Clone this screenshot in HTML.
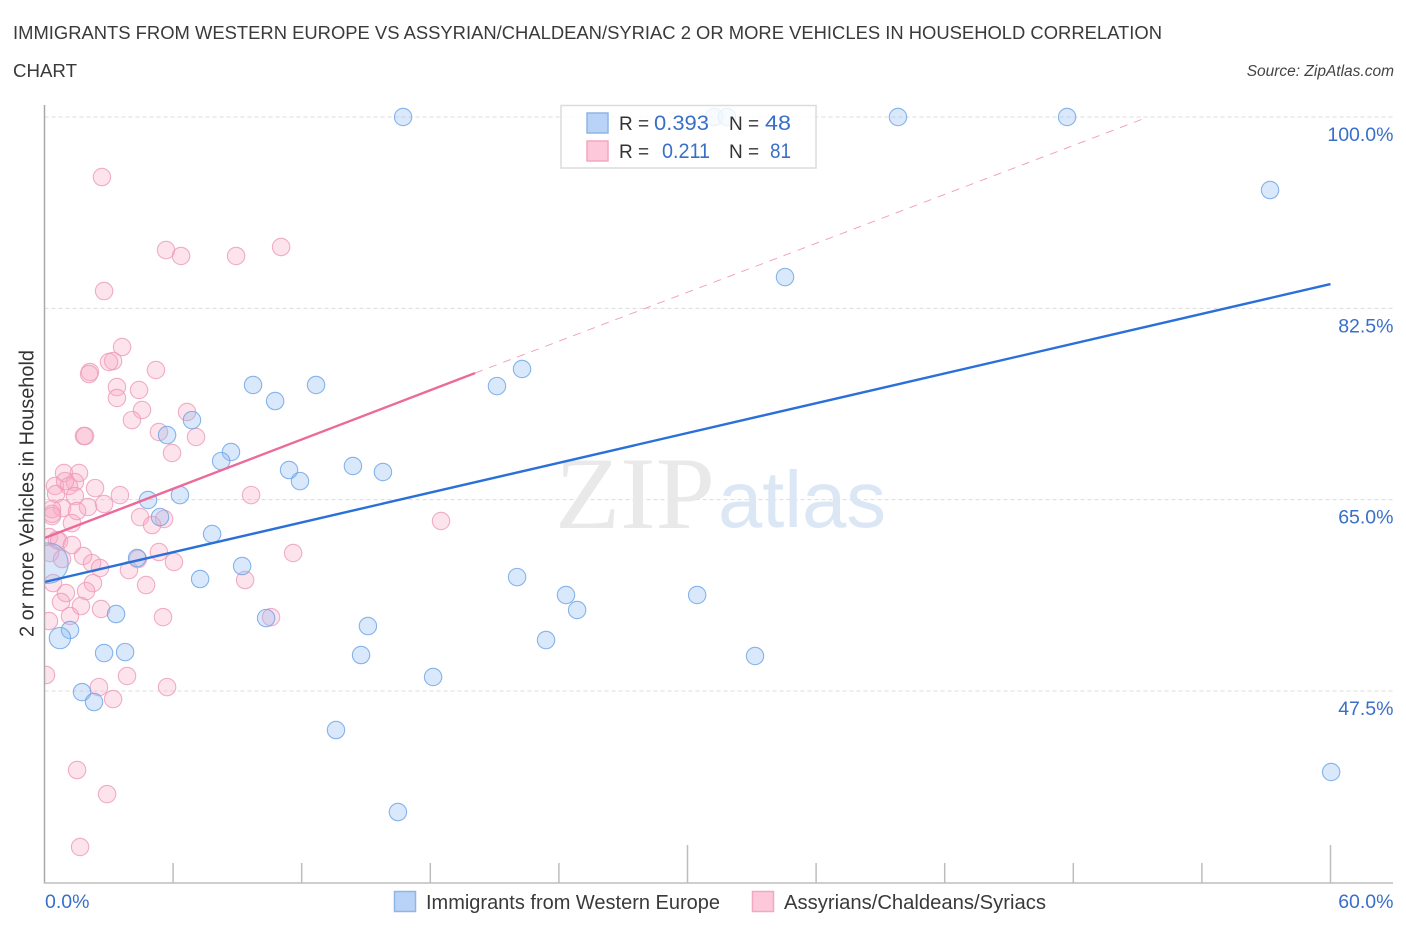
<!DOCTYPE html>
<html lang="en">
<head>
<meta charset="utf-8">
<title>Immigrants from Western Europe vs Assyrian/Chaldean/Syriac 2 or More Vehicles in Household Correlation Chart</title>
<style>
html,body{margin:0;padding:0;background:#fff;}
svg{display:block;}
text{font-family:"Liberation Sans",sans-serif;}
</style>
</head>
<body>
<svg id="chart" xmlns="http://www.w3.org/2000/svg" width="1406" height="930" viewBox="0 0 1406 930">
  <defs>
    <clipPath id="plot-clip"><rect x="44.5" y="0" width="1361" height="930"/></clipPath>
  </defs>
  <rect x="0" y="0" width="1406" height="930" fill="#fff"/>
  <text x="13" y="39" font-size="18.5" fill="#3a3a3a" textLength="1149" lengthAdjust="spacingAndGlyphs">IMMIGRANTS FROM WESTERN EUROPE VS ASSYRIAN/CHALDEAN/SYRIAC 2 OR MORE VEHICLES IN HOUSEHOLD CORRELATION</text>
  <text x="13" y="77" font-size="18.5" fill="#3a3a3a" textLength="64" lengthAdjust="spacingAndGlyphs">CHART</text>
  <text x="1394" y="76" font-size="15.5" font-style="italic" fill="#444" text-anchor="end">Source: ZipAtlas.com</text>

  <g id="grid"></g>

  <g>
    <text x="555" y="528" font-size="103" fill="#e9e9e9" style="font-family:'Liberation Serif',serif" textLength="160" lengthAdjust="spacingAndGlyphs">ZIP</text>
    <text x="718" y="527" font-size="80" fill="#dce7f6" textLength="168" lengthAdjust="spacingAndGlyphs">atlas</text>
  </g>

  <g id="pink-points" clip-path="url(#plot-clip)"></g>
  <g id="blue-points" clip-path="url(#plot-clip)"></g>
  <g id="trends"></g>
  <g id="axes"></g>

  <g>
    <rect x="561" y="105.5" width="255" height="62.5" fill="#fff" fill-opacity="0.82" stroke="#dcdcdc" stroke-width="1.5"/>
    <rect x="587" y="113" width="21" height="20" fill="#b8d3f5" stroke="#8fb5e6" stroke-width="1.5"/>
    <rect x="587" y="141" width="21" height="20" fill="#fdc9da" stroke="#f3a7c0" stroke-width="1.5"/>
    <text x="619" y="130" font-size="19" fill="#333">R =</text>
    <text x="654" y="130" font-size="21" fill="#3a6fc9" textLength="55" lengthAdjust="spacingAndGlyphs">0.393</text>
    <text x="729" y="130" font-size="19" fill="#333">N =</text>
    <text x="765" y="130" font-size="21" fill="#3a6fc9" textLength="26" lengthAdjust="spacingAndGlyphs">48</text>
    <text x="619" y="158" font-size="19" fill="#333">R =</text>
    <text x="662" y="158" font-size="21" fill="#3a6fc9" textLength="48" lengthAdjust="spacingAndGlyphs">0.211</text>
    <text x="729" y="158" font-size="19" fill="#333">N =</text>
    <text x="770" y="158" font-size="21" fill="#3a6fc9" textLength="21" lengthAdjust="spacingAndGlyphs">81</text>
  </g>

  <g>
    <rect x="394.5" y="891.5" width="21" height="20" fill="#b8d3f5" stroke="#8fb5e6" stroke-width="1.5"/>
    <text x="426" y="909" font-size="20" fill="#3a3a3a" textLength="294" lengthAdjust="spacingAndGlyphs">Immigrants from Western Europe</text>
    <rect x="752.5" y="891.5" width="21" height="20" fill="#fdc9da" stroke="#f3a7c0" stroke-width="1.5"/>
    <text x="784" y="909" font-size="20" fill="#3a3a3a" textLength="262" lengthAdjust="spacingAndGlyphs">Assyrians/Chaldeans/Syriacs</text>
  </g>

  <text transform="translate(33.5,493.5) rotate(-90)" font-size="20" fill="#333" text-anchor="middle" textLength="287" lengthAdjust="spacingAndGlyphs">2 or more Vehicles in Household</text>
</svg>
<script>
const blueX = [16.73,31.24,31.84,39.82,47.71,57.18,34.55,22.28,21.11,12.67,9.73,10.76,6.88,5.72,8.70,8.24,11.41,11.92,14.39,15.79,6.32,4.83,5.39,7.82,4.32,9.22,7.26,22.05,24.33,30.45,24.85,3.34,10.34,15.09,1.19,23.40,0.72,2.78,3.76,14.77,33.15,18.13,1.75,2.31,13.60,60.03,16.49,0.16];
const blueY = [100,100,100,100,100,93.32,85.36,76.95,75.39,75.49,75.49,74.02,72.28,70.91,69.36,68.53,67.71,66.70,68.08,67.53,65.42,64.97,63.41,61.86,59.66,58.93,57.74,57.92,56.28,56.28,54.91,54.54,54.17,53.44,53.08,52.16,52.34,50.97,51.06,50.79,50.70,48.78,47.40,46.49,43.93,40.09,36.43,59.20];
const blueWeight = [1,1,1,1,1,1,1,1,1,1,1,1,1,1,1,1,1,1,1,1,1,1,1,1,1,1,1,1,1,1,1,1,1,1,1,1,1.5,1,1,1,1,1,1,1,1,1,1,5.4];
const pinkX = [2.68,5.67,6.37,8.94,11.04,2.78,3.62,3.20,3.01,5.20,2.12,2.08,3.38,3.38,4.41,4.55,4.08,6.65,5.34,7.07,1.84,1.89,5.95,0.91,1.61,0.49,1.42,1.14,2.36,0.54,1.42,3.52,2.78,2.03,0.82,0.35,1.52,0.35,1.28,4.46,5.58,5.02,9.64,0.21,0.58,0.68,1.28,0.26,0.82,1.80,2.22,2.59,4.36,5.34,6.04,3.94,4.74,9.36,11.60,0.40,2.26,1.94,1.00,0.77,1.70,2.64,5.53,10.57,1.19,0.21,0.07,3.85,2.54,5.72,3.20,18.50,1.52,2.92,1.66,0.35,0.96];
const pinkY = [94.51,87.83,87.29,87.29,88.11,84.08,78.96,77.68,77.59,76.86,76.68,76.49,75.30,74.30,75.03,73.20,72.28,73.02,71.19,70.73,70.82,70.82,69.27,67.44,67.44,66.25,66.61,66.25,66.06,65.52,65.33,65.42,64.60,64.33,64.23,64.14,63.96,63.50,62.86,63.41,63.23,62.68,65.42,61.58,61.31,61.22,60.85,60.12,59.57,59.85,59.20,58.75,59.57,60.21,59.30,58.56,57.19,57.65,60.12,57.37,57.37,56.64,56.46,55.64,55.27,55.00,54.26,54.26,54.36,53.90,48.96,48.87,47.86,47.86,46.76,63.05,40.27,38.07,33.23,63.70,66.70];
const blueTrendX = [0,60];
const blueTrendY = [57.47,84.72];
const pinkTrendX = [0,20.09];
const pinkTrendY = [61.49,76.58];
const pinkDashedX = [20.09,51.49];
const pinkDashedY = [76.58,100];
const yTicks = [100,82.5,65,47.5];
const yTickLabels = ['100.0%','82.5%','65.0%','47.5%'];
const xTicks = [6,12,18,24,30,36,42,48,54,60];
const xMajorTicks = [30,60];
const xEndLabels = ['0.0%','60.0%'];

const NS = 'http://www.w3.org/2000/svg';
const xScale = v => 44.5 + (v / 60) * 1286;
const yScale = v => 117 + ((100 - v) / 52.5) * 574;
function make(tag, attrs, parent) {
  const el = document.createElementNS(NS, tag);
  for (const k in attrs) el.setAttribute(k, attrs[k]);
  parent.appendChild(el);
  return el;
}

const gridG = document.getElementById('grid');
yTicks.forEach((t, i) => {
  const line = make('line', {x1: 44.5, x2: 1393, y1: yScale(t), y2: yScale(t), stroke: '#dcdcdc', 'stroke-width': 1, 'stroke-dasharray': '4 3'}, gridG);
  
  
});

const pinkG = document.getElementById('pink-points');
pinkX.forEach((x, i) => {
  const c = make('circle', {cx: xScale(x), cy: yScale(pinkY[i]), r: 8.7, fill: '#f8a8c4', 'fill-opacity': 0.32, stroke: '#ee9ab8', 'stroke-opacity': 0.8, 'stroke-width': 1.1}, pinkG);
  
  
});

const blueG = document.getElementById('blue-points');
blueX.forEach((x, i) => {
  const c = make('circle', {cx: xScale(x), cy: yScale(blueY[i]), r: 8.7 * Math.sqrt(blueWeight[i]), fill: '#90bbf0', 'fill-opacity': 0.34, stroke: '#6aa2e6', 'stroke-opacity': 0.8, 'stroke-width': 1.1}, blueG);
  
  
});

const trendG = document.getElementById('trends');
const dashed = make('line', {x1: xScale(pinkDashedX[0]), y1: yScale(pinkDashedY[0]), x2: xScale(pinkDashedX[1]), y2: yScale(pinkDashedY[1]), stroke: '#ee9ab8', 'stroke-width': 0.9, 'stroke-dasharray': '8 7'}, trendG);


const pinkLine = make('line', {x1: xScale(pinkTrendX[0]), y1: yScale(pinkTrendY[0]), x2: xScale(pinkTrendX[1]), y2: yScale(pinkTrendY[1]), stroke: '#ec6a9a', 'stroke-width': 2.4}, trendG);


const blueLine = make('line', {x1: xScale(blueTrendX[0]), y1: yScale(blueTrendY[0]), x2: xScale(blueTrendX[1]), y2: yScale(blueTrendY[1]), stroke: '#2a70d8', 'stroke-width': 2.4}, trendG);



const axesG = document.getElementById('axes');
const yAxis = make('line', {x1: 44.5, x2: 44.5, y1: 105, y2: 883.5, stroke: '#a8a8a8', 'stroke-width': 1.5}, axesG);


const xAxis = make('line', {x1: 44, x2: 1393, y1: 883, y2: 883, stroke: '#bdbdbd', 'stroke-width': 1.5}, axesG);


xTicks.forEach(t => {
  const top = xMajorTicks.includes(t) ? 845 : 863;
  const tick = make('line', {x1: xScale(t), x2: xScale(t), y1: top, y2: 883, stroke: '#bdbdbd', 'stroke-width': 1.5}, axesG);
  
  
});
yTickLabels.forEach((label, i) => {
  const txt = make('text', {x: 1393.5, y: yScale(yTicks[i]) + 24, 'font-size': 19.5, fill: '#3a6fc9', 'text-anchor': 'end'}, axesG);
  txt.textContent = label;
  
  
});
const x0 = make('text', {x: 45, y: 908, 'font-size': 19.5, fill: '#3a6fc9'}, axesG);
x0.textContent = xEndLabels[0];


const x1 = make('text', {x: 1393.5, y: 908, 'font-size': 19.5, fill: '#3a6fc9', 'text-anchor': 'end'}, axesG);
x1.textContent = xEndLabels[1];


</script>
</body>
</html>
